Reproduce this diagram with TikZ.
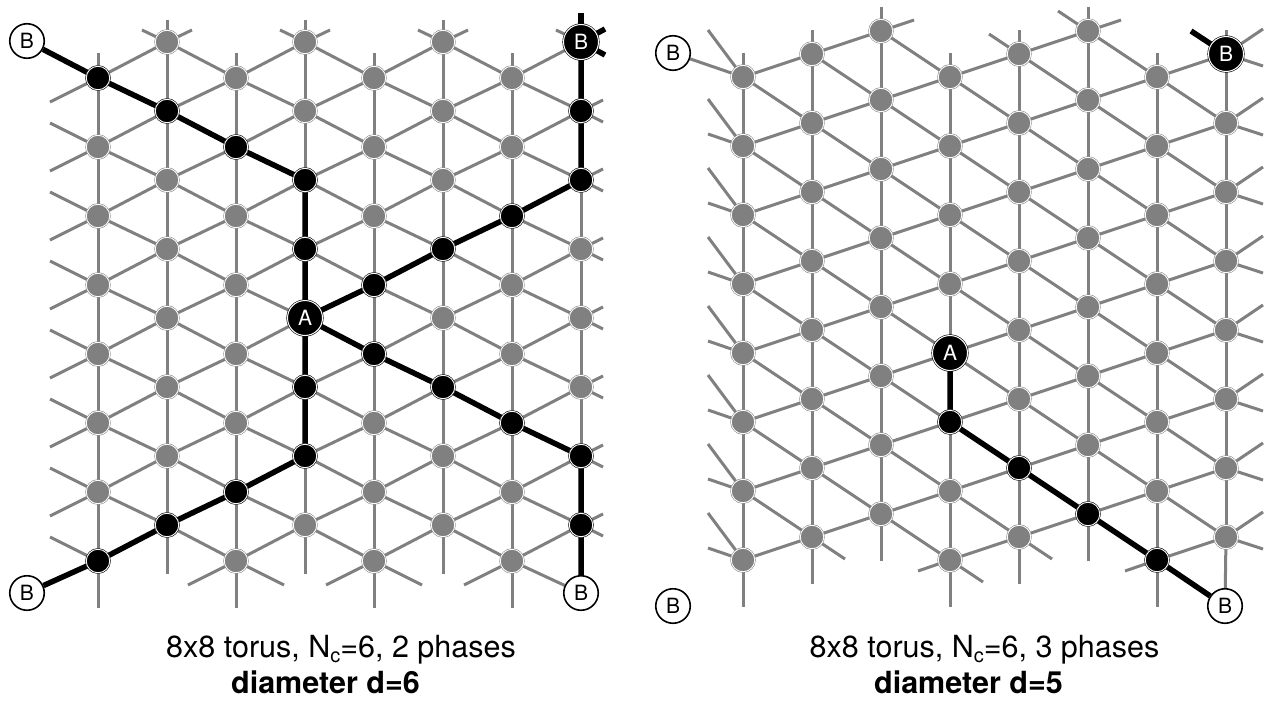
\documentclass[tikz,border=0pt]{standalone}
\usepackage{fontspec}
\setmainfont{TeX Gyre Heros}
\usetikzlibrary{backgrounds}

\begin{document}
\begin{tikzpicture}[
    x=1pt, y=-1pt,
    site/.style={
      circle, inner sep=0pt, minimum size=23.5pt,
      fill=gray, draw=gray, line width=0.5pt,
      double=white, double distance=0.9pt
    },
    hop/.style={site, fill=black, draw=black},
    endpt/.style={
      circle, inner sep=0pt, minimum size=34.5pt,
      fill=white, draw=black, line width=1.6pt,
      font=\fontsize{21}{21}\selectfont
    },
    endhop/.style={
      circle, inner sep=0pt, minimum size=35pt,
      fill=black, draw=black, line width=0.6pt,
      double=white, double distance=1pt,
      text=white, font=\fontsize{21}{21}\selectfont
    },
    grayline/.style={draw=gray, line width=3pt},
    hopline/.style={draw=black, line width=5.5pt},
    capline/.style={anchor=base, font=\fontsize{30.5}{36}\selectfont},
    capbold/.style={anchor=base, font=\fontsize{30.5}{36}\selectfont\bfseries},
  ]
  \useasboundingbox (0,0) rectangle (1269,704);

  % Left torus (2 phases)
  \foreach \c in {0,...,7} {
    \foreach \k in {0,...,7} {
      \pgfmathsetmacro\px{98+69*\c}
      \pgfmathsetmacro\py{78+69*\k-36*mod(\c,2)}
      \node[site] (L-\c-\k) at (\px,\py) {};
    }
  }
  \foreach \c/\k in {0/0,1/1,2/1,3/2,3/3,3/5,3/6,2/6,1/7,0/7,
                     4/3,5/3,6/2,7/2,7/1,4/4,5/5,6/5,7/6,7/7}
    \node[hop] (Lh-\c-\k) at (L-\c-\k) {};
  \node[endhop] (LA) at (L-3-4) {A};
  \node[endhop] (LB) at (L-7-0) {B};
  \node[endpt] (LB-tl) at (27,41) {B};
  \node[endpt] (LB-bl) at (27,593) {B};
  \node[endpt] (LB-br) at (581,593) {B};

  % Right torus (3 phases)
  \foreach \c in {0,...,7} {
    \foreach \k in {0,...,7} {
      \pgfmathsetmacro\px{743+69*\c}
      \pgfmathsetmacro\py{77+69*\k-23*mod(\c,3)}
      \node[site] (R-\c-\k) at (\px,\py) {};
    }
  }
  \foreach \c/\k in {3/5,4/6,5/7,6/7}
    \node[hop] (Rh-\c-\k) at (R-\c-\k) {};
  \node[endhop] (RA) at (R-3-4) {A};
  \node[endhop] (RB) at (R-7-0) {B};
  \node[endpt] (RB-tl) at (673,53) {B};
  \node[endpt] (RB-bl) at (673,606) {B};
  \node[endpt] (RB-br) at (1225,606) {B};

  % Captions
  \node[capline] (Lcap) at (341,657)
    {8x8 torus, N\raisebox{-5pt}{\fontsize{20}{20}\selectfont c}=6, 2 phases};
  \node[capbold] (Ldia) at (325.5,693) {diameter d=6};
  \node[capline] (Rcap) at (984.5,657)
    {8x8 torus, N\raisebox{-5pt}{\fontsize{20}{20}\selectfont c}=6, 3 phases};
  \node[capbold] (Rdia) at (968.5,693) {diameter d=5};

  \begin{scope}[on background layer]
    % Left lattice
    \foreach \c in {0,...,7} {
      \foreach \k [evaluate=\k as \j using int(\k+1)] in {0,...,6}
        \draw[grayline] (L-\c-\k) -- (L-\c-\j);
    }
    \foreach \c [evaluate=\c as \d using int(\c+1)] in {0,2,4,6} {
      \foreach \k in {0,...,7}
        \draw[grayline] (L-\c-\k) -- (L-\d-\k);
      \foreach \k [evaluate=\k as \j using int(\k+1)] in {0,...,6}
        \draw[grayline] (L-\c-\k) -- (L-\d-\j);
    }
    \foreach \c [evaluate=\c as \d using int(\c+1)] in {1,3,5} {
      \foreach \k in {0,...,7}
        \draw[grayline] (L-\c-\k) -- (L-\d-\k);
      \foreach \k [evaluate=\k as \j using int(\k+1)] in {0,...,6}
        \draw[grayline] (L-\c-\j) -- (L-\d-\k);
    }
    % Left wrap stubs
    \foreach \k in {1,...,7} \draw[grayline] (L-0-\k) -- ++(-48,-24);
    \foreach \k in {0,...,6} \draw[grayline] (L-0-\k) -- ++(-48,24);
    \foreach \k in {1,...,7} {
      \draw[grayline] (L-7-\k) -- ++(22,-11);
      \draw[grayline] (L-7-\k) -- ++(22,11);
    }
    \foreach \c in {0,2,4,6} \draw[grayline] (L-\c-0) -- ++(0,-25);
    \foreach \c in {1,3,5} {
      \draw[grayline] (L-\c-0) -- ++(0,-22);
      \draw[grayline] (L-\c-0) -- ++(-25,-12);
      \draw[grayline] (L-\c-0) -- ++(25,-12);
    }
    \draw[grayline] (LB) -- ++(-25,-12);
    \foreach \c in {0,2,4,6} \draw[grayline] (L-\c-7) -- ++(0,47);
    \foreach \c in {1,3,5} \draw[grayline] (L-\c-7) -- ++(0,49);
    \foreach \c in {2,4,6} \draw[grayline] (L-\c-7) -- ++(-48,24);
    \foreach \c in {2,4} \draw[grayline] (L-\c-7) -- ++(48,24);
    \draw[grayline] (L-6-7) -- (LB-br);

    % Left shortest paths
    \draw[hopline] (LB-tl) -- (L-0-0) -- (L-1-1) -- (L-2-1) -- (L-3-2) -- (L-3-3) -- (LA)
      -- (L-3-5) -- (L-3-6) -- (L-2-6) -- (L-1-7) -- (L-0-7) -- (LB-bl);
    \draw[hopline] (LA) -- (L-4-3) -- (L-5-3) -- (L-6-2) -- (L-7-2) -- (L-7-1) -- (LB);
    \draw[hopline] (LA) -- (L-4-4) -- (L-5-5) -- (L-6-5) -- (L-7-6) -- (L-7-7) -- (LB-br);
    \draw[hopline] (LB) -- ++(0,-29);
    \draw[hopline] (LB) -- ++(24,-13);
    \draw[hopline] (LB) -- ++(24,13);

    % Right lattice
    \foreach \c in {0,...,7} {
      \foreach \k [evaluate=\k as \j using int(\k+1)] in {0,...,6}
        \draw[grayline] (R-\c-\k) -- (R-\c-\j);
    }
    \foreach \c [evaluate=\c as \d using int(\c+1)] in {0,1,3,4,6} {
      \foreach \k in {0,...,7}
        \draw[grayline] (R-\c-\k) -- (R-\d-\k);
      \foreach \k [evaluate=\k as \j using int(\k+1)] in {0,...,6}
        \draw[grayline] (R-\c-\k) -- (R-\d-\j);
    }
    \foreach \c [evaluate=\c as \d using int(\c+1)] in {2,5} {
      \foreach \k in {0,...,7}
        \draw[grayline] (R-\c-\k) -- (R-\d-\k);
      \foreach \k [evaluate=\k as \j using int(\k+1)] in {0,...,6}
        \draw[grayline] (R-\c-\j) -- (R-\d-\k);
    }
    % Right wrap stubs
    \foreach \k in {0,...,7} {
      \draw[grayline] (R-0-\k) -- ++(-35,-47);
      \draw[grayline] (R-7-\k) -- ++(37,-25);
      \draw[grayline] (R-7-\k) -- ++(37,12);
    }
    \foreach \k in {1,...,7} \draw[grayline] (R-0-\k) -- ++(-35,-12);
    \draw[grayline] (R-0-0) -- (RB-tl);
    \foreach \c in {0,...,6} \draw[grayline] (R-\c-0) -- ++(0,-24);
    \draw[grayline] (RB) -- ++(0,-24);
    \foreach \c in {2,5} \draw[grayline] (R-\c-0) -- ++(33,-11);
    \foreach \c in {4,5} \draw[grayline] (R-\c-0) -- ++(-30,-20);
    \foreach \c in {0,...,6} \draw[grayline] (R-\c-7) -- ++(0,47);
    \draw[grayline] (R-7-7) -- (RB-br);
    \foreach \c in {1,3,4} \draw[grayline] (R-\c-7) -- ++(33,22);
    \foreach \c in {3,6} \draw[grayline] (R-\c-7) -- ++(-32,11);

    % Right shortest path
    \draw[hopline] (RA) -- (R-3-5) -- (R-4-6) -- (R-5-7) -- (R-6-7) -- (RB-br);
    \draw[hopline] (RB) -- ++(-35,-23);
  \end{scope}
\end{tikzpicture}
\end{document}
